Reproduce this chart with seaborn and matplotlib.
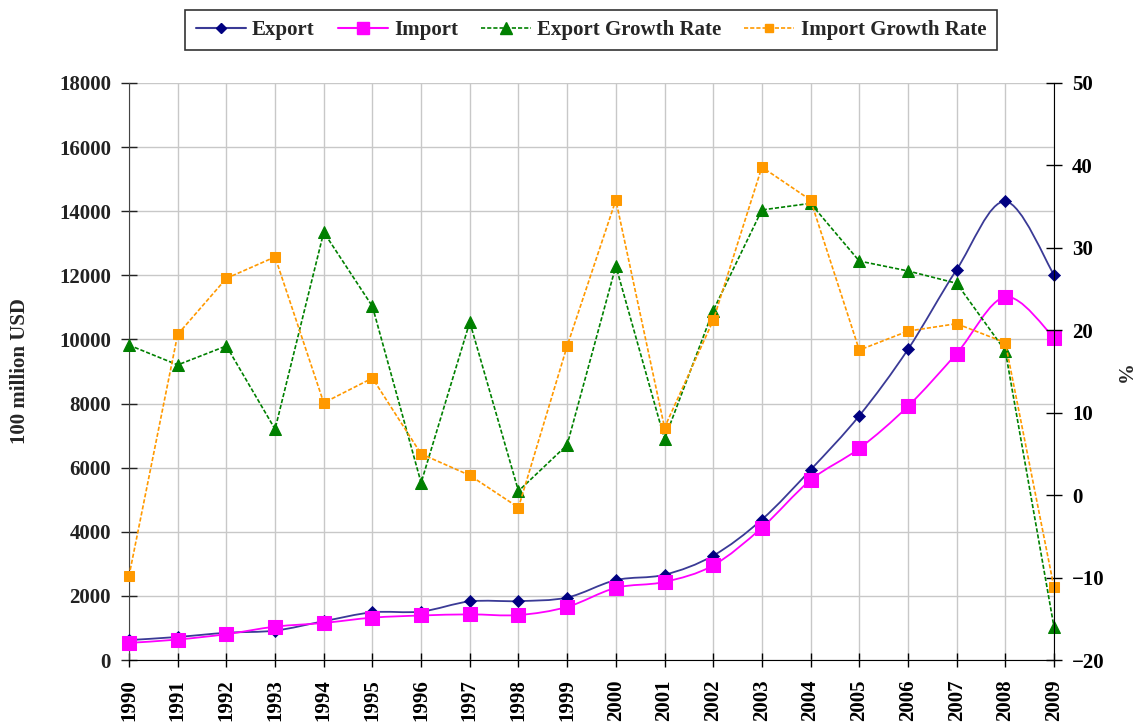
import numpy as np
import pandas as pd
import matplotlib
matplotlib.use("Agg")
import matplotlib.pyplot as plt
from matplotlib.path import Path
from matplotlib.patches import PathPatch
from matplotlib.lines import Line2D
import seaborn as sns

# data (100 million USD, growth in %)
years = list(range(1990, 2010))
export = [620.9, 719.1, 849.4, 917.4, 1210.1, 1487.8, 1510.5, 1827.9, 1837.1, 1949.3,
          2492.0, 2661.0, 3256.0, 4382.3, 5933.2, 7619.5, 9689.4, 12177.8, 14306.9, 12016.1]
imports = [533.5, 637.9, 805.9, 1039.6, 1156.1, 1320.8, 1388.3, 1423.7, 1402.4, 1657.0,
           2250.9, 2435.5, 2951.7, 4127.6, 5612.3, 6599.5, 7914.6, 9561.2, 11325.6, 10059.2]
export_growth = [18.2, 15.8, 18.1, 8.0, 31.9, 22.9, 1.5, 21.0, 0.5, 6.1,
                 27.8, 6.8, 22.4, 34.6, 35.4, 28.4, 27.2, 25.7, 17.5, -16.0]
import_growth = [-9.8, 19.5, 26.3, 28.9, 11.2, 14.2, 5.0, 2.4, -1.5, 18.1,
                 35.8, 8.2, 21.2, 39.8, 35.8, 17.6, 19.9, 20.8, 18.5, -11.2]

df = pd.DataFrame({"year": years, "export": export, "import": imports,
                   "export_growth": export_growth, "import_growth": import_growth})

sns.set_style("white")
plt.rcParams["font.family"] = ["Liberation Serif", "DejaVu Serif"]
plt.rcParams["font.weight"] = "bold"

EXP_LINE, EXP_MARK = "#3a3a96", "#000080"
IMP = "#ff00ff"
EG = "#008000"
IG = "#ff9900"
DASH = (0, (2.5, 1.2))


def smooth_path(x, y):
    # Excel-style smoothed line as cubic bezier segments
    x = np.asarray(x, float)
    y = np.asarray(y, float)
    n = len(x)
    verts = [(x[0], y[0])]
    codes = [Path.MOVETO]
    for i in range(n - 1):
        a = i - 1 if i > 0 else i
        b = i + 2 if i + 2 < n else i + 1
        c1 = (x[i] + (x[i + 1] - x[a]) / 6, y[i] + (y[i + 1] - y[a]) / 6)
        c2 = (x[i + 1] - (x[b] - x[i]) / 6, y[i + 1] - (y[b] - y[i]) / 6)
        verts += [c1, c2, (x[i + 1], y[i + 1])]
        codes += [Path.CURVE4] * 3
    return Path(verts, codes)


W, H = 1134, 727
fig = plt.figure(figsize=(W / 100, H / 100), dpi=100)
ax1 = fig.add_axes([129 / W, 1 - 660 / H, (1054 - 129) / W, (660 - 83) / H])
ax2 = ax1.twinx()

# value lines (smoothed) + markers
ax1.add_patch(PathPatch(smooth_path(df["year"], df["export"]), fill=False,
                        edgecolor=EXP_LINE, lw=1.3, zorder=3))
ax1.add_patch(PathPatch(smooth_path(df["year"], df["import"]), fill=False,
                        edgecolor=IMP, lw=1.3, zorder=3))
sns.scatterplot(data=df, x="year", y="export", marker="D", s=38, color=EXP_MARK,
                edgecolor=EXP_MARK, ax=ax1, zorder=4, clip_on=False)
sns.scatterplot(data=df, x="year", y="import", marker="s", s=90, color=IMP,
                edgecolor=IMP, ax=ax1, zorder=4, clip_on=False)

# growth rates on right axis
sns.lineplot(data=df, x="year", y="export_growth", ax=ax2, color=EG, lw=1.2,
             linestyle=DASH, marker="^", markersize=9, markeredgecolor=EG, clip_on=False)
sns.lineplot(data=df, x="year", y="import_growth", ax=ax2, color=IG, lw=1.2,
             linestyle=DASH, marker="s", markersize=7, markeredgecolor=IG, clip_on=False)

ax1.set_xlim(1990, 2009)
ax1.set_ylim(0, 18000)
ax1.set_yticks(range(0, 18001, 2000))
ax1.set_xticks(years)
ax1.set_xticklabels([str(y) for y in years], rotation=90)
ax2.set_ylim(-20, 50)
ax2.set_yticks(range(-20, 51, 10))

ax1.grid(True, color="#c8c8c8", lw=1)
ax2.grid(False)
ax1.set_xlabel("")
ax1.set_ylabel("")
ax2.set_xlabel("")
ax2.set_ylabel("")

for ax in (ax1, ax2):
    ax.spines["top"].set_visible(False)
ax1.spines["right"].set_visible(False)
ax2.spines["left"].set_visible(False)
ax2.spines["bottom"].set_visible(False)
ax1.spines["left"].set_color("#444444")
ax1.spines["bottom"].set_color("black")
ax2.spines["right"].set_color("black")

ax1.tick_params(axis="y", direction="inout", length=12, width=1, pad=7,
                labelsize=15, left=True, colors="#222222")
ax1.tick_params(axis="x", direction="inout", length=10, width=1, pad=9,
                labelsize=15, bottom=True, colors="black")
ax2.tick_params(axis="y", direction="inout", length=12, width=1, pad=7,
                labelsize=15, right=True, colors="black")

fig.text(20 / W, 1 - 371 / H, "100 million USD", rotation=90, ha="center",
         va="center", fontsize=15, fontweight="bold")
fig.text(1121 / W, 1 - 375 / H, "%", rotation=270, ha="center", va="center",
         fontsize=15, fontweight="bold")

handles = [
    Line2D([], [], color=EXP_LINE, lw=1.5, marker="D", markersize=5,
           markerfacecolor=EXP_MARK, markeredgecolor=EXP_MARK),
    Line2D([], [], color=IMP, lw=1.5, marker="s", markersize=8,
           markerfacecolor=IMP, markeredgecolor=IMP),
    Line2D([], [], color=EG, lw=1.2, linestyle=DASH, marker="^", markersize=8,
           markerfacecolor=EG, markeredgecolor=EG),
    Line2D([], [], color=IG, lw=1.2, linestyle=DASH, marker="s", markersize=6,
           markerfacecolor=IG, markeredgecolor=IG),
]
labels = ["Export", "Import", "Export Growth Rate", "Import Growth Rate"]
leg = fig.legend(handles, labels, loc="center", ncol=4,
                 bbox_to_anchor=(591 / W, 1 - 30 / H), frameon=True, fancybox=False,
                 edgecolor="black", fontsize=15, handlelength=2.4, columnspacing=1.1,
                 handletextpad=0.3, borderpad=0.5)
leg.get_frame().set_linewidth(1.2)

fig.savefig("out.png", dpi=100)
